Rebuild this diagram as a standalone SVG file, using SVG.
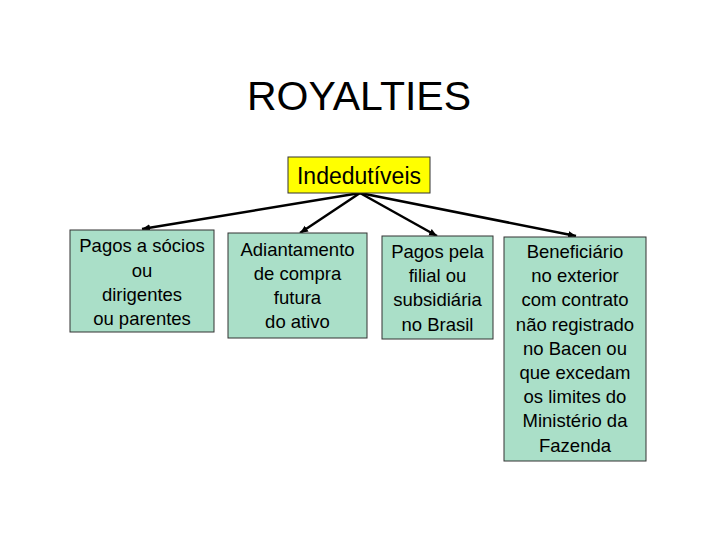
<svg xmlns="http://www.w3.org/2000/svg" width="720" height="540" viewBox="0 0 720 540">
<defs>
<style>
.t{font-family:"Liberation Sans",Arial,sans-serif;fill:#000;text-anchor:middle}
.box{fill:#AADFC8;stroke:#333;stroke-width:1}
.bt{font-size:18.5px}
.con{stroke:#000;stroke-width:2.5;fill:none;marker-end:url(#ah)}
</style>
<marker id="ah" markerUnits="userSpaceOnUse" markerWidth="10" markerHeight="8" refX="8" refY="3.5" orient="auto">
<path d="M0,0 L8,3.5 L0,7 Z" fill="#000"/>
</marker>
</defs>
<rect width="720" height="540" fill="#fff"/>
<text class="t" x="359" y="110" font-size="41">ROYALTIES</text>
<g id="connectors">
<line class="con" x1="360" y1="193" x2="142" y2="229"/>
<line class="con" x1="360" y1="193" x2="300" y2="233"/>
<line class="con" x1="360" y1="193" x2="437" y2="236"/>
<line class="con" x1="360" y1="193" x2="576" y2="236"/>
</g>
<g id="indedutiveis">
<rect x="288" y="157" width="142" height="36" fill="#FFFF00" stroke="#333" stroke-width="1"/>
<text class="t" x="359" y="184" font-size="23">Indedutíveis</text>
</g>
<g id="n1">
<rect class="box" x="70" y="230" width="144" height="102"/>
<text class="t bt"><tspan x="142" y="252">Pagos a sócios</tspan><tspan x="142" y="277">ou</tspan><tspan x="142" y="301">dirigentes</tspan><tspan x="142" y="325">ou parentes</tspan></text>
</g>
<g id="n2">
<rect class="box" x="228" y="233" width="139" height="105"/>
<text class="t bt"><tspan x="297.5" y="256">Adiantamento</tspan><tspan x="297.5" y="280">de compra</tspan><tspan x="297.5" y="304">futura</tspan><tspan x="297.5" y="328">do ativo</tspan></text>
</g>
<g id="n3">
<rect class="box" x="382" y="236" width="111" height="103"/>
<text class="t bt"><tspan x="437.5" y="258">Pagos pela</tspan><tspan x="437.5" y="282">filial ou</tspan><tspan x="437.5" y="306">subsidiária</tspan><tspan x="437.5" y="331">no Brasil</tspan></text>
</g>
<g id="n4">
<rect class="box" x="504" y="237" width="142" height="224"/>
<text class="t bt"><tspan x="575" y="258">Beneficiário</tspan><tspan x="575" y="282">no exterior</tspan><tspan x="575" y="306">com contrato</tspan><tspan x="575" y="331">não registrado</tspan><tspan x="575" y="355">no Bacen ou</tspan><tspan x="575" y="379">que excedam</tspan><tspan x="575" y="403">os limites do</tspan><tspan x="575" y="427">Ministério da</tspan><tspan x="575" y="452">Fazenda</tspan></text>
</g>
</svg>
